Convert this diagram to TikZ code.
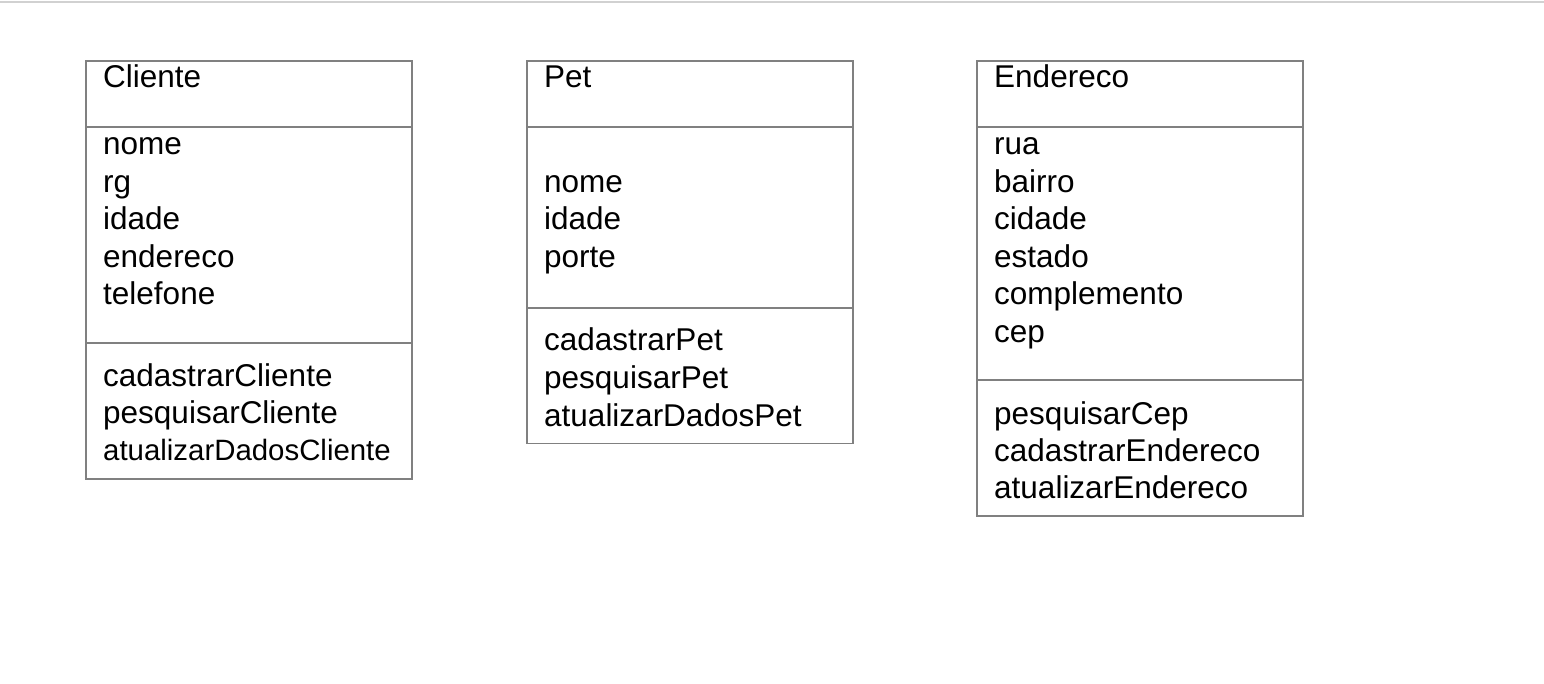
\documentclass[tikz,border=0pt]{standalone}
\usepackage{fontspec}
\setmainfont{Liberation Sans}
\begin{document}
\begin{tikzpicture}[x=1pt,y=-1pt,
  boxline/.style={draw=black!50, line width=1.6pt},
  lbl/.style={anchor=base west, inner sep=0pt, font=\fontsize{31.5}{36}\selectfont, text=black},
  lblsmall/.style={lbl, font=\fontsize{29.4}{36}\selectfont}]
\useasboundingbox (0,0) rectangle (1544,684);
\fill[white] (0,0) rectangle (1544,684);
\draw[black!18, line width=2.5pt] (0,2) -- (1544,2);
% Cliente
\draw[boxline] (86,61) rectangle (412,479);
\draw[boxline] (86,127) -- (412,127);
\draw[boxline] (86,343) -- (412,343);
\node[lbl] (c0) at (103,88) {Cliente};
\node[lbl] (c1) at (103,155) {nome};
\node[lbl] (c2) at (103,192.5) {rg};
\node[lbl] (c3) at (103,230) {idade};
\node[lbl] (c4) at (103,267.5) {endereco};
\node[lbl] (c5) at (103,305) {telefone};
\node[lbl] (c6) at (103,386) {cadastrarCliente};
\node[lbl] (c7) at (103,423.5) {pesquisarCliente};
\node[lblsmall] (c8) at (103,460) {atualizarDadosCliente};
% Pet
\draw[boxline] (527,61) rectangle (853,443.5);
\draw[boxline] (527,127) -- (853,127);
\draw[boxline] (527,308.3) -- (853,308.3);
\node[lbl] (p0) at (544,88) {Pet};
\node[lbl] (p1) at (544,193) {nome};
\node[lbl] (p2) at (544,230) {idade};
\node[lbl] (p3) at (544,267.5) {porte};
\node[lbl] (p4) at (544,351) {cadastrarPet};
\node[lbl] (p5) at (544,388.5) {pesquisarPet};
\node[lbl] (p6) at (544,426) {atualizarDadosPet};
% Endereco
\draw[boxline] (977,61) rectangle (1303,516);
\draw[boxline] (977,127) -- (1303,127);
\draw[boxline] (977,380) -- (1303,380);
\node[lbl] (e0) at (994,88) {Endereco};
\node[lbl] (e1) at (994,155) {rua};
\node[lbl] (e2) at (994,192.5) {bairro};
\node[lbl] (e3) at (994,230) {cidade};
\node[lbl] (e4) at (994,267.5) {estado};
\node[lbl] (e5) at (994,305) {complemento};
\node[lbl] (e6) at (994,342) {cep};
\node[lbl] (e7) at (994,424) {pesquisarCep};
\node[lbl] (e8) at (994,461.5) {cadastrarEndereco};
\node[lbl] (e9) at (994,498.5) {atualizarEndereco};
\end{tikzpicture}
\end{document}
